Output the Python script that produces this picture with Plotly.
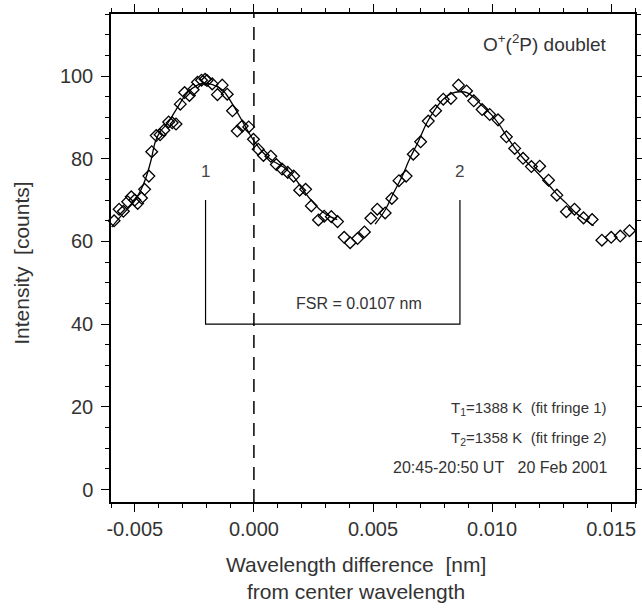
import plotly.graph_objects as go

# Observed fringe profile (wavelength difference [nm], intensity [counts])
wl_obs = [-0.00587, -0.00566, -0.00548, -0.00530, -0.00515, -0.00500, -0.00488, -0.00472,
          -0.00459, -0.00441, -0.00429, -0.00410, -0.00394, -0.00378, -0.00358, -0.00343,
          -0.00327, -0.00309, -0.00291, -0.00271, -0.00255, -0.00237, -0.00220, -0.00205,
          -0.00197, -0.00175, -0.00153, -0.00133, -0.00112, -0.00090, -0.00070, -0.00049,
          -0.00022, -0.00002, 0.00018, 0.00040, 0.00071, 0.00094, 0.00118, 0.00142,
          0.00167, 0.00192, 0.00217, 0.00241, 0.00271, 0.00295, 0.00325, 0.00351,
          0.00379, 0.00404, 0.00435, 0.00464, 0.00491, 0.00518, 0.00551, 0.00579,
          0.00609, 0.00639, 0.00669, 0.00700, 0.00732, 0.00763, 0.00795, 0.00827,
          0.00859, 0.00893, 0.00923, 0.00958, 0.00990, 0.01025, 0.01060, 0.01095,
          0.01130, 0.01165, 0.01200, 0.01237, 0.01272, 0.01312, 0.01346, 0.01384,
          0.01420, 0.01461, 0.01500, 0.01538, 0.01577]
counts_obs = [65.0, 67.8, 67.3, 69.6, 70.8, 70.0, 69.2, 70.5,
              72.6, 75.8, 81.7, 85.6, 85.8, 86.9, 88.9, 88.7,
              88.4, 93.2, 96.0, 95.3, 96.7, 98.5, 99.0, 99.2,
              98.9, 98.1, 95.5, 97.8, 95.6, 91.6, 86.7, 87.9,
              87.7, 84.7, 82.3, 80.8, 80.6, 78.6, 77.5, 76.7,
              75.8, 72.4, 72.6, 68.6, 65.2, 66.1, 66.0, 64.8,
              61.0, 59.7, 60.7, 62.3, 65.6, 67.8, 66.9, 70.4,
              74.7, 75.8, 81.1, 84.1, 89.1, 91.6, 94.4, 94.6,
              97.8, 96.4, 94.0, 91.9, 90.7, 89.4, 85.3, 82.5,
              80.1, 78.1, 78.2, 74.8, 71.2, 67.2, 67.8, 65.7,
              65.3, 60.3, 61.0, 61.3, 62.6]

# Fitted fringe 1
fit1_wl = [-0.00597, -0.00551, -0.00505, -0.00475, -0.00454, -0.00433, -0.00413, -0.00392,
           -0.00362, -0.00320, -0.00279, -0.00237, -0.00207, -0.00174, -0.00132, -0.00090,
           -0.00044, -0.00002, 0.00040, 0.00082, 0.00124, 0.00165, 0.00195, 0.00237,
           0.00279, 0.00320, 0.00350]
fit1_counts = [63.5, 66.6, 69.5, 72.4, 75.3, 79.4, 84.3, 86.7,
               88.6, 92.5, 96.0, 97.8, 98.3, 97.9, 96.6, 93.2,
               88.6, 84.5, 81.4, 79.4, 78.0, 75.8, 73.4, 70.2,
               67.6, 66.0, 65.3]

# Fitted fringe 2
fit2_wl = [0.00509, 0.00551, 0.00585, 0.00621, 0.00655, 0.00690, 0.00725, 0.00760,
           0.00795, 0.00830, 0.00865, 0.00894, 0.00928, 0.00962, 0.00998, 0.01032,
           0.01067, 0.01102, 0.01137, 0.01172, 0.01207, 0.01242, 0.01276, 0.01312,
           0.01346, 0.01381, 0.01426]
fit2_counts = [64.2, 67.6, 71.6, 75.6, 80.1, 84.1, 88.6, 91.9,
               94.4, 95.8, 96.2, 96.0, 94.6, 92.6, 90.6, 88.1,
               84.9, 82.1, 79.7, 77.7, 75.6, 73.4, 71.2, 69.2,
               67.2, 65.6, 63.8]

fringe_pos = [-0.00203, 0.00865]
fringe_names = ["1", "2"]
bracket_top = 70
bracket_bottom = 40

x_tickvals = [-0.005, 0.0, 0.005, 0.010, 0.015]
x_ticktext = ["-0.005", "0.000", "0.005", "0.010", "0.015"]
y_tickvals = [0, 20, 40, 60, 80, 100]

FONT = "Liberation Sans, Arial, Helvetica, sans-serif"
TXT = "#333333"

fig = go.Figure()

fig.add_trace(go.Scatter(x=wl_obs, y=counts_obs, mode="markers",
                         marker=dict(symbol="diamond-open", size=9,
                                     color="black", line=dict(width=1.3, color="black")),
                         showlegend=False, cliponaxis=False))
fig.add_trace(go.Scatter(x=fit1_wl, y=fit1_counts, mode="lines",
                         line=dict(color="black", width=1.3, shape="spline"),
                         showlegend=False))
fig.add_trace(go.Scatter(x=fit2_wl, y=fit2_counts, mode="lines",
                         line=dict(color="black", width=1.3, shape="spline"),
                         showlegend=False))
# FSR bracket
fig.add_trace(go.Scatter(x=[fringe_pos[0], fringe_pos[0], fringe_pos[1], fringe_pos[1]],
                         y=[bracket_top, bracket_bottom, bracket_bottom, bracket_top],
                         mode="lines", line=dict(color="black", width=1.2),
                         showlegend=False))

# center wavelength dashed line
fig.add_shape(type="line", x0=0, x1=0, y0=0, y1=1, xref="x", yref="paper",
              line=dict(color="black", width=1.5, dash="13px,9px"))

for p, n in zip(fringe_pos, fringe_names):
    fig.add_annotation(x=p, y=77, text=n, showarrow=False,
                       font=dict(family=FONT, size=17, color="#444444"))

fig.add_annotation(x=0.0044, y=45, text="FSR = 0.0107 nm", showarrow=False,
                   font=dict(family=FONT, size=16, color=TXT))

fig.add_annotation(x=0.01489, y=108, xanchor="right",
                   text="O<sup>+</sup>(<sup>2</sup>P) doublet", showarrow=False,
                   font=dict(family=FONT, size=19, color=TXT))
fig.add_annotation(x=0.01489, y=19.7, xanchor="right",
                   text="T<sub>1</sub>=1388 K\u00a0 (fit fringe 1)", showarrow=False,
                   font=dict(family=FONT, size=15, color=TXT))
fig.add_annotation(x=0.01489, y=12.4, xanchor="right",
                   text="T<sub>2</sub>=1358 K\u00a0 (fit fringe 2)", showarrow=False,
                   font=dict(family=FONT, size=15, color=TXT))
fig.add_annotation(x=0.01489, y=5.4, xanchor="right",
                   text="20:45-20:50 UT\u00a0\u00a0\u00a020 Feb 2001", showarrow=False,
                   font=dict(family=FONT, size=16, color=TXT))

# axis titles
fig.add_annotation(x=0.4676, y=-0.155, xref="paper", yref="paper",
                   xanchor="center", yanchor="middle",
                   text="Wavelength difference\u00a0\u00a0[nm]<br>from center wavelength",
                   showarrow=False,
                   font=dict(family=FONT, size=21, color=TXT))
fig.add_annotation(x=-0.17, y=0.49, xref="paper", yref="paper", textangle=-90,
                   xanchor="center", yanchor="middle",
                   text="Intensity\u00a0\u00a0[counts]", showarrow=False,
                   font=dict(family=FONT, size=21, color=TXT))

axis_common = dict(showline=True, linecolor="black", linewidth=1.5, mirror="allticks",
                   ticks="outside", ticklen=8, tickwidth=1.3, tickcolor="black",
                   showgrid=False, zeroline=False, automargin=False,
                   tickfont=dict(family=FONT, size=20, color=TXT))

fig.update_xaxes(range=[-0.006, 0.016], tickvals=x_tickvals, ticktext=x_ticktext,
                 minor=dict(dtick=0.001, tick0=0, ticks="outside", ticklen=4,
                            tickwidth=1.2, tickcolor="black", showgrid=False),
                 **axis_common)
fig.update_yaxes(range=[-3, 115], tickvals=y_tickvals, ticklabelstandoff=4,
                 minor=dict(dtick=5, tick0=0, ticks="outside", ticklen=4,
                            tickwidth=1.2, tickcolor="black", showgrid=False),
                 **axis_common)

fig.update_layout(width=642, height=608, margin=dict(l=111, r=7, t=14, b=106, autoexpand=False),
                  plot_bgcolor="white", paper_bgcolor="white",
                  font=dict(family=FONT, color=TXT))

fig.write_html("out.html", config={"displayModeBar": False},
               post_script="document.body.style.margin='0';document.body.style.overflow='hidden';")
